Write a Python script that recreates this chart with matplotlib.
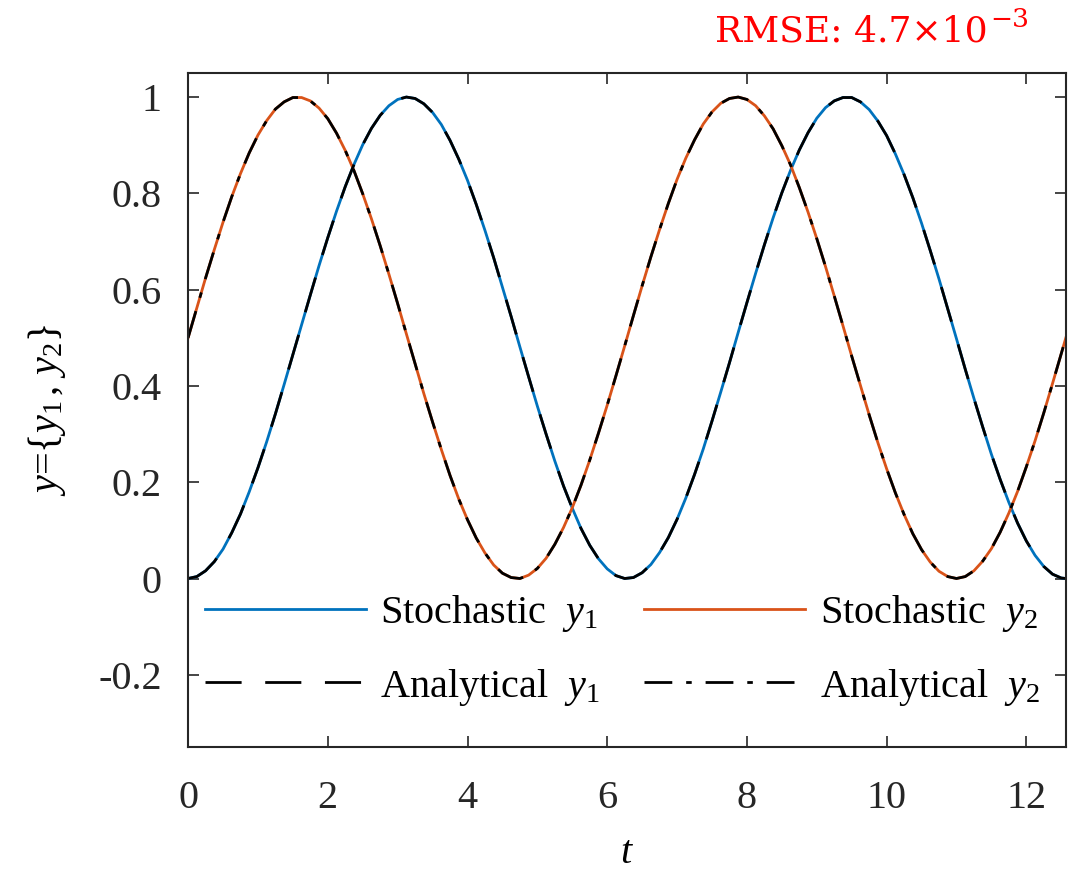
import matplotlib
matplotlib.use("Agg")
import matplotlib.pyplot as plt

plt.rcParams['font.family'] = ['Liberation Serif', 'DejaVu Serif']
plt.rcParams['mathtext.fontset'] = 'custom'
plt.rcParams['mathtext.rm'] = 'Liberation Serif'
plt.rcParams['mathtext.it'] = 'Liberation Serif:italic'

# values, step 0.125 in t
t = [0.0, 0.125, 0.25, 0.375, 0.5, 0.625, 0.75, 0.875, 1.0, 1.125, 1.25, 1.375,
     1.5, 1.625, 1.75, 1.875, 2.0, 2.125, 2.25, 2.375, 2.5, 2.625, 2.75, 2.875,
     3.0, 3.125, 3.25, 3.375, 3.5, 3.625, 3.75, 3.875, 4.0, 4.125, 4.25, 4.375,
     4.5, 4.625, 4.75, 4.875, 5.0, 5.125, 5.25, 5.375, 5.5, 5.625, 5.75, 5.875,
     6.0, 6.125, 6.25, 6.375, 6.5, 6.625, 6.75, 6.875, 7.0, 7.125, 7.25, 7.375,
     7.5, 7.625, 7.75, 7.875, 8.0, 8.125, 8.25, 8.375, 8.5, 8.625, 8.75, 8.875,
     9.0, 9.125, 9.25, 9.375, 9.5, 9.625, 9.75, 9.875, 10.0, 10.125, 10.25,
     10.375, 10.5, 10.625, 10.75, 10.875, 11.0, 11.125, 11.25, 11.375, 11.5,
     11.625, 11.75, 11.875, 12.0, 12.125, 12.25, 12.375, 12.5, 12.566]
y1_analytical = [
    0.000, 0.004, 0.016, 0.035, 0.061, 0.095, 0.134, 0.180, 0.230, 0.284,
    0.342, 0.403, 0.465, 0.527, 0.589, 0.650, 0.708, 0.763, 0.814, 0.860,
    0.901, 0.935, 0.962, 0.982, 0.995, 1.000, 0.997, 0.986, 0.968, 0.943,
    0.910, 0.871, 0.827, 0.777, 0.723, 0.666, 0.605, 0.544, 0.481, 0.419,
    0.358, 0.300, 0.244, 0.192, 0.146, 0.104, 0.069, 0.041, 0.020, 0.006,
    0.000, 0.002, 0.012, 0.029, 0.054, 0.085, 0.123, 0.167, 0.216, 0.269,
    0.327, 0.387, 0.448, 0.511, 0.573, 0.634, 0.693, 0.749, 0.801, 0.848,
    0.890, 0.926, 0.956, 0.978, 0.992, 0.999, 0.999, 0.990, 0.974, 0.950,
    0.920, 0.882, 0.839, 0.791, 0.738, 0.681, 0.622, 0.560, 0.498, 0.435,
    0.374, 0.315, 0.258, 0.206, 0.158, 0.115, 0.078, 0.048, 0.025, 0.009,
    0.001, 0.000]
y2_analytical = [
    0.500, 0.562, 0.624, 0.683, 0.740, 0.793, 0.841, 0.884, 0.921, 0.951,
    0.975, 0.990, 0.999, 0.999, 0.992, 0.977, 0.955, 0.925, 0.889, 0.847,
    0.799, 0.747, 0.691, 0.632, 0.571, 0.508, 0.446, 0.384, 0.325, 0.268,
    0.214, 0.165, 0.122, 0.084, 0.053, 0.028, 0.011, 0.002, 0.000, 0.007,
    0.021, 0.042, 0.071, 0.106, 0.147, 0.194, 0.246, 0.302, 0.360, 0.421,
    0.483, 0.546, 0.608, 0.668, 0.725, 0.779, 0.829, 0.873, 0.911, 0.944,
    0.969, 0.987, 0.997, 1.000, 0.995, 0.982, 0.961, 0.934, 0.899, 0.859,
    0.812, 0.761, 0.706, 0.648, 0.587, 0.525, 0.462, 0.401, 0.340, 0.282,
    0.228, 0.178, 0.133, 0.093, 0.060, 0.034, 0.015, 0.004, 0.000, 0.004,
    0.016, 0.036, 0.062, 0.096, 0.136, 0.181, 0.232, 0.286, 0.344, 0.405,
    0.467, 0.500]
# stochastic solution sits on top of the analytical one
y1_stochastic = list(y1_analytical)
y2_stochastic = list(y2_analytical)

rmse_base = 'RMSE: 4.7×10'
rmse_exp = '−3'

fig = plt.figure(figsize=(10.81, 8.74), dpi=100)
ax = fig.add_axes([0.174, 0.1453, 0.812, 0.7712])

s1, = ax.plot(t, y1_stochastic, color='#0072BD', lw=2, label=r'Stochastic  $y_1$')
s2, = ax.plot(t, y2_stochastic, color='#D95319', lw=2, label=r'Stochastic  $y_2$')
a1, = ax.plot(t, y1_analytical, color='black', lw=2, dashes=(13, 8.5),
              label=r'Analytical  $y_1$')
a2, = ax.plot(t, y2_analytical, color='black', lw=2, dashes=(10, 5, 2, 5),
              label=r'Analytical  $y_2$')

ax.set_xlim(0, 12.566)
ax.set_ylim(-0.35, 1.05)
ax.set_xticks([0, 2, 4, 6, 8, 10, 12])
ax.set_yticks([-0.2, 0, 0.2, 0.4, 0.6, 0.8, 1])
ax.set_yticklabels(['-0.2', '0', '0.2', '0.4', '0.6', '0.8', '1'])
ax.tick_params(direction='in', top=True, right=True, length=8, width=1.2,
               labelsize=29, colors='#262626')
ax.tick_params(axis='x', pad=24)
ax.tick_params(axis='y', pad=19)
for sp in ax.spines.values():
    sp.set_color('#262626')
    sp.set_linewidth(1.5)

ax.set_xlabel(r'$t$', fontsize=29, labelpad=13)
ax.set_ylabel(r'$y$=$\{y_1\,,\,y_2\}$', fontsize=29, labelpad=22)

ax.legend([s1, a1, s2, a2], [h.get_label() for h in [s1, a1, s2, a2]],
          ncol=2, frameon=False, fontsize=29, loc='upper left',
          bbox_to_anchor=(0.019, 0.228), borderpad=0, borderaxespad=0,
          handlelength=4, handletextpad=0.35, columnspacing=1.1,
          labelspacing=0.8)

base = fig.text(715 / 1081, 1 - 42 / 874, rmse_base, color='red', fontsize=26,
                family='DejaVu Serif', va='baseline', ha='left')
fig.canvas.draw()
bb = base.get_window_extent()
fig.text(bb.x1 / fig.bbox.width + 0.002, 1 - 27 / 874, rmse_exp, color='red',
         fontsize=19, family='DejaVu Serif', va='baseline', ha='left')

fig.savefig('out.png', dpi=100)
